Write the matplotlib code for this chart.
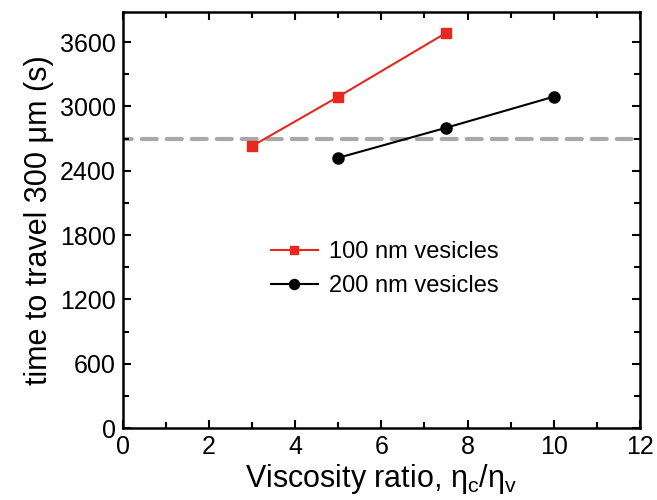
import numpy as np
import matplotlib
matplotlib.use('Agg')
import matplotlib.pyplot as plt
from matplotlib.ticker import MultipleLocator

plt.rcParams['font.family'] = ['Liberation Sans', 'DejaVu Sans']
plt.rcParams['mathtext.fontset'] = 'custom'
plt.rcParams['mathtext.rm'] = 'Liberation Sans'
plt.rcParams['mathtext.it'] = 'Liberation Sans'

# data
ratio_100 = [3, 5, 7.5]
time_100 = [2630, 3090, 3685]
ratio_200 = [5, 7.5, 10]
time_200 = [2520, 2800, 3090]
reference_time = 2700

fig = plt.figure(figsize=(6.57, 5.0), dpi=100)
ax = fig.add_axes([0.187, 0.144, 0.787, 0.832])

ax.axhline(reference_time, color='#a8a8a8', lw=3, ls=(1.5, (3.6, 2.4)),
           dash_capstyle='round', zorder=1)
ax.plot(ratio_100, time_100, '-s', color='#e8271f', lw=1.5, ms=7,
        label='100 nm vesicles', zorder=3)
ax.plot(ratio_200, time_200, '-o', color='black', lw=1.5, ms=8,
        label='200 nm vesicles', zorder=3)

ax.set_xlim(0, 12)
ax.set_ylim(0, 3880)
ax.xaxis.set_major_locator(MultipleLocator(2))
ax.xaxis.set_minor_locator(MultipleLocator(1))
ax.yaxis.set_major_locator(MultipleLocator(600))
ax.yaxis.set_minor_locator(MultipleLocator(300))
ax.tick_params(which='both', direction='in', top=True, right=True,
               width=1.5, labelsize=18)
ax.tick_params(which='major', length=6, pad=5)
ax.tick_params(which='minor', length=4)
for s in ax.spines.values():
    s.set_linewidth(1.8)

ax.set_xlabel(r'Viscosity ratio, $\mathregular{\eta_c/\eta_v}$', fontsize=22, labelpad=2)
ax.set_ylabel('time to travel 300 μm (s)', fontsize=22, labelpad=4)

ax.legend(loc='upper left', bbox_to_anchor=(0.245, 0.50), frameon=False,
          fontsize=17, handlelength=2.0, handletextpad=0.45, labelspacing=0.5,
          markerscale=0.9)

fig.savefig('out.png', dpi=100)
